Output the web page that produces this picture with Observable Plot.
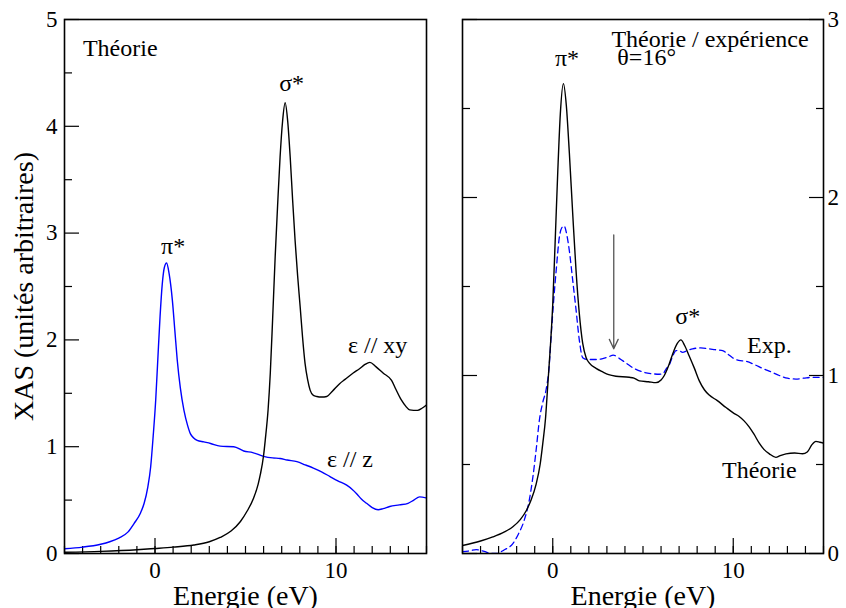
<!DOCTYPE html>
<html>
<head>
<meta charset="utf-8">
<script src="https://cdn.jsdelivr.net/npm/d3@7"></script>
<script src="https://cdn.jsdelivr.net/npm/@observablehq/plot@0.6"></script>
<style>
  html, body { margin: 0; padding: 0; background: #fff; }
  #chart { display: flex; width: 846px; height: 608px; }
  #chart svg { display: block; }
</style>
</head>
<body>
<div id="chart"></div>
<script>
// ---------- Data ----------
// Left panel, "Théorie": ε // z (blue)
const zEnergy = [-5,-4,-3,-2.5,-2,-1.5,-1.16,-0.8,-0.6,-0.4,-0.24,-0.1,0.04,0.15,0.28,0.4,0.52,0.64,0.78,0.96,1.1,1.23,1.4,1.6,1.8,1.96,2.15,2.33,2.7,3.07,3.6,4.35,4.9,5.4,6.0,6.5,6.91,7.3,7.84,8.3,8.75,9.2,9.67,10.1,10.59,10.9,11.14,11.4,11.69,12.0,12.33,12.6,12.97,13.5,13.98,14.3,14.62,15];
const zXAS    = [0.045,0.06,0.087,0.11,0.145,0.2,0.28,0.38,0.47,0.62,0.81,1.1,1.44,1.8,2.22,2.52,2.68,2.72,2.62,2.37,2.08,1.81,1.55,1.34,1.2,1.12,1.08,1.06,1.045,1.03,1.005,1.0,0.96,0.945,0.91,0.895,0.89,0.875,0.86,0.83,0.80,0.765,0.72,0.68,0.64,0.6,0.56,0.51,0.47,0.43,0.41,0.42,0.44,0.455,0.47,0.5,0.53,0.52];

// Left panel, "Théorie": ε // xy (black)
const xyEnergy = [-5,-3,-1,0,1,2.15,3,3.6,4.2,4.72,5.1,5.45,5.7,5.82,6.0,6.09,6.25,6.37,6.5,6.64,6.78,6.91,7.05,7.19,7.33,7.47,7.6,7.74,7.88,8.02,8.15,8.29,8.43,8.57,8.75,8.94,9.2,9.49,9.8,10.2,10.5,10.95,11.3,11.6,11.87,12.2,12.6,13.07,13.3,13.6,13.85,14.07,14.5,14.75,15];
const xyXAS    = [0.012,0.02,0.035,0.047,0.06,0.08,0.11,0.15,0.21,0.3,0.4,0.52,0.65,0.74,0.92,1.06,1.35,1.69,2.2,2.78,3.28,3.71,4.05,4.22,4.05,3.71,3.32,2.93,2.6,2.31,2.03,1.78,1.63,1.53,1.48,1.47,1.465,1.47,1.52,1.59,1.63,1.69,1.73,1.77,1.79,1.75,1.69,1.62,1.54,1.44,1.38,1.345,1.34,1.36,1.39];

// Right panel, "Théorie / expérience", θ=16°: theory (black)
const thEnergy = [-5,-4,-3.32,-2.7,-2.21,-1.8,-1.47,-1.2,-0.92,-0.7,-0.55,-0.4,-0.28,-0.14,0,0.14,0.28,0.42,0.59,0.75,0.92,1.1,1.29,1.47,1.66,1.85,2.03,2.4,2.77,3.1,3.5,4.24,4.5,4.8,5.3,5.72,6.0,6.18,6.4,6.64,6.9,7.1,7.3,7.56,7.85,8.12,8.4,8.67,9.1,9.6,10.0,10.33,10.6,10.89,11.15,11.44,11.7,12.0,12.36,12.6,12.92,13.4,13.84,14.1,14.35,14.58,14.8,15];
const thXAS    = [0.045,0.07,0.093,0.12,0.15,0.19,0.24,0.3,0.39,0.5,0.62,0.76,0.94,1.15,1.40,1.77,2.15,2.47,2.64,2.52,2.25,1.92,1.59,1.35,1.18,1.10,1.07,1.04,1.02,1.005,0.996,0.99,0.985,0.97,0.965,0.96,0.975,1.0,1.05,1.12,1.18,1.20,1.17,1.11,1.04,0.97,0.92,0.89,0.86,0.82,0.79,0.77,0.745,0.71,0.67,0.62,0.585,0.56,0.54,0.55,0.56,0.565,0.56,0.57,0.61,0.63,0.625,0.62];

// Right panel: experiment (blue dashed)
const expEnergy = [-5,-4.6,-4.24,-3.8,-3.4,-3.13,-2.7,-2.21,-1.9,-1.57,-1.3,-1.1,-0.9,-0.74,-0.55,-0.37,-0.2,-0.09,0.05,0.19,0.37,0.5,0.63,0.78,0.92,1.1,1.29,1.47,1.66,1.9,2.21,2.5,2.77,3.1,3.35,3.7,4.06,4.5,4.98,5.5,5.9,6.1,6.3,6.46,6.65,6.83,7.0,7.19,7.45,7.75,8.2,8.67,9.0,9.41,9.7,9.96,10.3,10.7,11.2,11.62,12.1,12.55,13.0,13.47,13.9,14.39,15];
const expXAS    = [0.01,0.015,0.022,0.012,0.0,0.0,0.02,0.056,0.11,0.19,0.3,0.43,0.6,0.75,0.85,0.92,1.05,1.22,1.42,1.59,1.78,1.83,1.84,1.79,1.70,1.54,1.37,1.2,1.10,1.09,1.09,1.09,1.095,1.105,1.115,1.095,1.07,1.04,1.02,1.01,1.007,1.01,1.04,1.06,1.11,1.14,1.14,1.13,1.14,1.15,1.155,1.15,1.145,1.14,1.12,1.10,1.085,1.08,1.06,1.04,1.02,1.0,0.985,0.98,0.985,0.99,0.99];

// Axis ticks
const xDomain = [-5, 15];
const xMajorTicks = [0, 10];
const xMinorTicks = d3.range(-5, 16, 1);
const yLeftDomain = [0, 5];
const yLeftMajor = [0, 1, 2, 3, 4, 5];
const yLeftMinor = [0.5, 1.5, 2.5, 3.5, 4.5];
const yRightDomain = [0, 3];
const yRightMajor = [0, 1, 2, 3];
const yRightMinor = [0.5, 1.5, 2.5];

// Labels and titles
const xTitle = "Energie (eV)";
const yTitle = "XAS (unités arbitraires)";
const leftNotesStart = [
  {text: "Théorie", x: -3.98, y: 4.73},
  {text: "ε // xy", x: 10.66, y: 1.945},
  {text: "ε // z", x: 9.5, y: 0.883}
];
const leftNotesMiddle = [
  {text: "π*", x: 1.0, y: 2.88},
  {text: "σ*", x: 7.55, y: 4.40}
];
const rightNotesStart = [
  {text: "Théorie / expérience", x: 3.25, y: 2.89},
  {text: "θ=16°", x: 3.58, y: 2.79},
  {text: "Exp.", x: 10.76, y: 1.167},
  {text: "Théorie", x: 9.38, y: 0.465}
];
const rightNotesMiddle = [
  {text: "π*", x: 0.79, y: 2.78},
  {text: "σ*", x: 7.48, y: 1.335}
];
const arrowData = [{x: 3.38, y1: 1.79, y2: 1.15}];

// ---------- Build ----------
const zip = (xs, ys) => xs.map((x, i) => ({x, y: ys[i]}));
const font = "'Liberation Serif', 'Times New Roman', Times, serif";
const BLUE = "#0000ff";
const fmt = (d) => String(d);

function xAxes() {
  return [
    Plot.axisX({ticks: xMajorTicks, tickSize: 0, tickPadding: 8, tickFormat: fmt, label: null}),
    Plot.axisX({ticks: xMinorTicks, tickSize: -7, fill: "none", label: null, strokeWidth: 1.2}),
    Plot.axisX({ticks: xMajorTicks, tickSize: -15, fill: "none", label: null, strokeWidth: 1.2}),
    Plot.text([xTitle], {frameAnchor: "bottom", textAnchor: "middle", dy: 32, lineAnchor: "top", fontSize: 28, fill: "black"})
  ];
}

function notes(startData, middleData) {
  const common = {x: "x", y: "y", text: "text", fontSize: 24, fill: "black", lineAnchor: "middle"};
  return [
    Plot.text(startData, {...common, textAnchor: "start"}),
    Plot.text(middleData, {...common, textAnchor: "middle"})
  ];
}

const left = Plot.plot({
  width: 440, height: 608,
  marginLeft: 64, marginRight: 14, marginTop: 19, marginBottom: 55,
  x: {domain: xDomain},
  y: {domain: yLeftDomain},
  style: {fontFamily: font, fontSize: "23px", color: "black", background: "white", overflow: "visible"},
  marks: [
    ...xAxes(),
    Plot.axisY({ticks: yLeftMajor, tickSize: 0, tickPadding: 7, tickFormat: fmt, label: null}),
    Plot.axisY({ticks: yLeftMajor, tickSize: -15, fill: "none", label: null, strokeWidth: 1.2}),
    Plot.axisY({ticks: yLeftMinor, tickSize: -8, fill: "none", label: null, strokeWidth: 1.2}),
    Plot.text([yTitle], {frameAnchor: "left", textAnchor: "middle", dx: -40, rotate: -90, fontSize: 28, fill: "black", lineAnchor: "middle"}),
    Plot.line(zip(zEnergy, zXAS), {x: "x", y: "y", stroke: BLUE, strokeWidth: 1.4, curve: "monotone-x", clip: true}),
    Plot.line(zip(xyEnergy, xyXAS), {x: "x", y: "y", stroke: "black", strokeWidth: 1.4, curve: "monotone-x", clip: true}),
    ...notes(leftNotesStart, leftNotesMiddle),
    Plot.frame({stroke: "black", strokeWidth: 1.6})
  ]
});

const right = Plot.plot({
  width: 406, height: 608,
  marginLeft: 22, marginRight: 23, marginTop: 19, marginBottom: 55,
  x: {domain: xDomain},
  y: {domain: yRightDomain},
  style: {fontFamily: font, fontSize: "23px", color: "black", background: "white", overflow: "visible"},
  marks: [
    ...xAxes(),
    Plot.axisY({anchor: "right", ticks: yRightMajor, tickSize: 0, tickPadding: 4, tickFormat: fmt, label: null}),
    Plot.axisY({anchor: "right", ticks: yRightMajor, tickSize: -15, fill: "none", label: null, strokeWidth: 1.2}),
    Plot.axisY({anchor: "right", ticks: yRightMinor, tickSize: -8, fill: "none", label: null, strokeWidth: 1.2}),
    Plot.axisY({anchor: "left", ticks: yRightMajor, tickSize: -15, fill: "none", label: null, strokeWidth: 1.2}),
    Plot.axisY({anchor: "left", ticks: yRightMinor, tickSize: -8, fill: "none", label: null, strokeWidth: 1.2}),
    Plot.line(zip(expEnergy, expXAS), {x: "x", y: "y", stroke: BLUE, strokeWidth: 1.3, strokeDasharray: "6,4", curve: "monotone-x", clip: true}),
    Plot.line(zip(thEnergy, thXAS), {x: "x", y: "y", stroke: "black", strokeWidth: 1.4, curve: "monotone-x", clip: true}),
    Plot.arrow(arrowData, {x1: "x", x2: "x", y1: "y1", y2: "y2", stroke: "#555", strokeWidth: 1.3, headLength: 12, headAngle: 50}),
    ...notes(rightNotesStart, rightNotesMiddle),
    Plot.frame({stroke: "black", strokeWidth: 1.6})
  ]
});

const chart = document.getElementById("chart");
chart.appendChild(left);
chart.appendChild(right);
</script>
</body>
</html>
